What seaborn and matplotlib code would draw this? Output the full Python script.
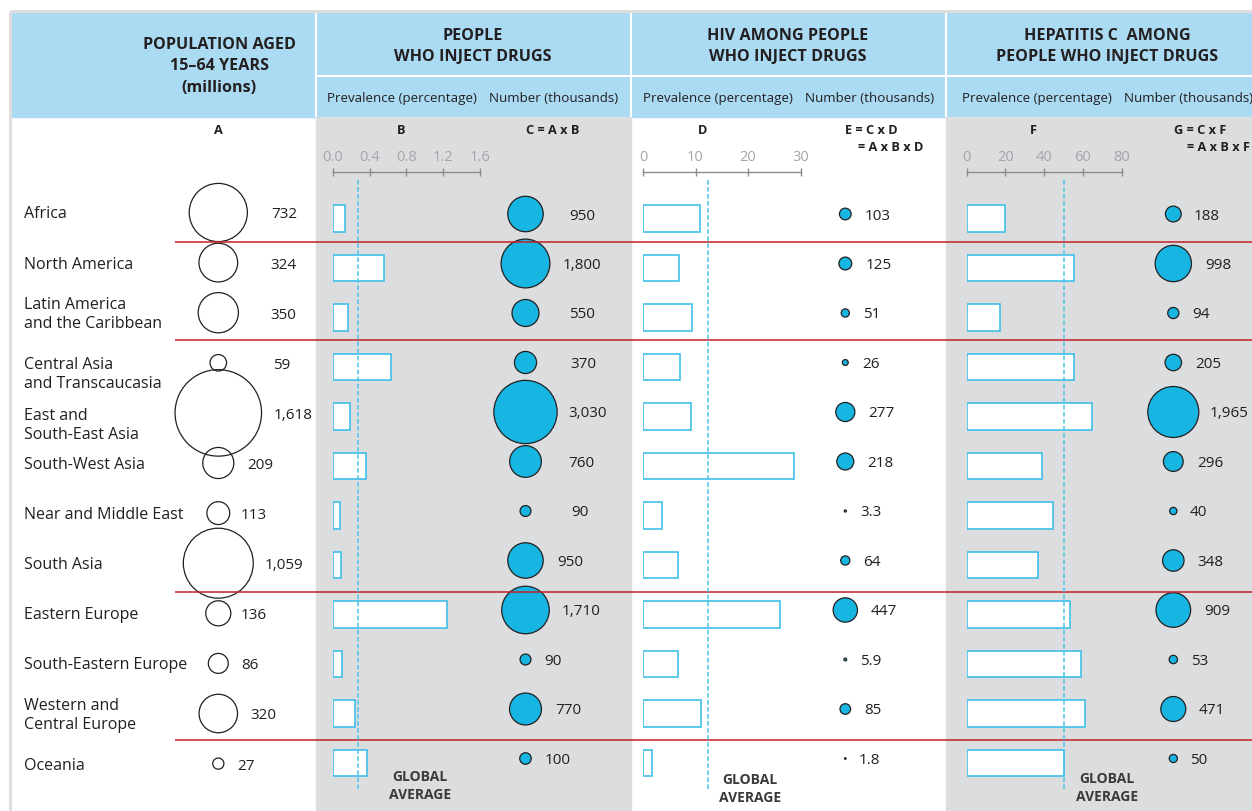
import numpy as np
import pandas as pd
import seaborn as sns
import matplotlib.pyplot as plt
from matplotlib.patches import Rectangle

# ---- data ----
regions = ['Africa', 'North America', 'Latin America\nand the Caribbean',
           'Central Asia\nand Transcaucasia', 'East and\nSouth-East Asia',
           'South-West Asia', 'Near and Middle East', 'South Asia',
           'Eastern Europe', 'South-Eastern Europe',
           'Western and\nCentral Europe', 'Oceania']
pop_millions = [732, 324, 350, 59, 1618, 209, 113, 1059, 136, 86, 320, 27]
pwid_prev = [0.13, 0.56, 0.16, 0.63, 0.19, 0.36, 0.08, 0.09, 1.25, 0.10, 0.24, 0.37]
pwid_thousands = [950, 1800, 550, 370, 3030, 760, 90, 950, 1710, 90, 770, 100]
hiv_prev = [10.8, 6.9, 9.3, 7.0, 9.1, 28.7, 3.7, 6.7, 26.1, 6.6, 11.0, 1.8]
hiv_thousands = [103, 125, 51, 26, 277, 218, 3.3, 64, 447, 5.9, 85, 1.8]
hcv_prev = [19.8, 55.4, 17.1, 55.4, 64.9, 38.9, 44.4, 36.6, 53.2, 58.9, 61.2, 50.0]
hcv_thousands = [188, 998, 94, 205, 1965, 296, 40, 348, 909, 53, 471, 50]
pwid_global = 0.27
hiv_global = 12.4
hcv_global = 50.5

pwid_ticks = [0.0, 0.4, 0.8, 1.2, 1.6]
hiv_ticks = [0, 10, 20, 30]
hcv_ticks = [0, 20, 40, 60, 80]

# ---- layout (pixels) ----
W, H = 1252, 812
ROW0, STEP = 215, 49.5          # rows of the bubble / number columns
AROW0, ASTEP = 213.5, 50.1      # rows of column A and the region names
AXIS_Y = 173
label_x_a = [271, 270, 270, 273, 274, 247, 241, 265, 241, 241, 250, 237]
label_x_c = [569, 563, 569, 570, 568, 568, 571, 557, 562, 544, 555, 545]
label_x_e = [865, 866, 863, 862, 868, 867, 860, 863, 871, 860, 864, 859]
label_x_g = [1194, 1205, 1192, 1195, 1210, 1197, 1190, 1197, 1204, 1191, 1199, 1190]
name_shift = {3: 10, 4: 10.5}

DARK = '#231f20'
HEAD = '#abdaf3'
PANEL = '#dcdddf'
CYAN = '#17b5e2'
BAR_EDGE = '#3fc0e9'
DASH = '#4cc4ea'
RED = '#c41e26'

sns.set_theme(style='white')
plt.rcParams['font.family'] = ['Open Sans', 'DejaVu Sans']

fig = plt.figure(figsize=(W / 100, H / 100), dpi=100)
bg = fig.add_axes([0, 0, 1, 1])


def fmt(v):
    if v >= 1000:
        return f'{v:,.0f}'
    if v != int(v):
        return f'{v:.1f}'
    return f'{int(v)}'


# background blocks
bg.add_patch(Rectangle((11, 13.5), W - 11, 118 - 13.5, color=HEAD, zorder=0))
bg.add_patch(Rectangle((316, 118), 315, H - 118, color=PANEL, zorder=0))
bg.add_patch(Rectangle((946, 118), W - 946, H - 118, color=PANEL, zorder=0))
bg.add_patch(Rectangle((9.5, 12), W + 10, H + 10, fill=False, edgecolor='#dedede', lw=2.2, zorder=1))
bg.vlines([315.5, 630.5, 945.5], 13.5, 118, color='white', lw=1.5, zorder=1)
bg.hlines(76.7, 316, W, color='white', lw=1.5, zorder=1)

# header texts
hd = dict(ha='center', va='center', fontsize=11.6, fontweight='bold', color=DARK, linespacing=1.45)
bg.text(219, 66.5, 'POPULATION AGED\n15\u201364 YEARS\n(millions)', **hd)
bg.text(473, 46.7, 'PEOPLE\nWHO INJECT DRUGS', **hd)
bg.text(788, 46.7, 'HIV AMONG PEOPLE\nWHO INJECT DRUGS', **hd)
bg.text(1107, 46.7, 'HEPATITIS C  AMONG\nPEOPLE WHO INJECT DRUGS', **hd)
sub = dict(ha='center', va='center', fontsize=9.6, color=DARK)
for cx, t in [(402, 'Prevalence (percentage)'), (554, 'Number (thousands)'),
              (718, 'Prevalence (percentage)'), (870, 'Number (thousands)'),
              (1037, 'Prevalence (percentage)'), (1189, 'Number (thousands)')]:
    bg.text(cx, 98.5, t, **sub)

let = dict(ha='center', va='center', fontsize=9.2, fontweight='bold', color=DARK)
bg.text(218, 130, 'A', **let)
bg.text(401, 130, 'B', **let)
bg.text(553, 130, 'C = A x B', **let)
bg.text(703, 130, 'D', **let)
bg.text(871, 130, 'E = C x D', **let)
bg.text(923, 147.5, '= A x B x D', **dict(let, ha='right'))
bg.text(1033, 130, 'F', **let)
bg.text(1200, 130, 'G = C x F', **let)
bg.text(1250, 147.5, '= A x B x F', **dict(let, ha='right'))

# region names
for i, name in enumerate(regions):
    bg.text(24, AROW0 + ASTEP * i + name_shift.get(i, 0) + 1, name, ha='left', va='center',
            fontsize=11.5, color=DARK, linespacing=1.25)

# column A: population bubbles (hollow)
rows = np.arange(len(regions))
dfa = pd.DataFrame({'x': 218.3, 'y': AROW0 + ASTEP * rows, 'v': pop_millions})
ka = (2 * 1.075 * 0.72) ** 2
sns.scatterplot(data=dfa, x='x', y='y', size='v', sizes=(0, ka * max(pop_millions)),
                size_norm=(0, max(pop_millions)), color='none', edgecolor=DARK,
                linewidth=0.9, legend=False, ax=bg, zorder=3)
for i, v in enumerate(pop_millions):
    bg.text(label_x_a[i], AROW0 + ASTEP * i + 1.5, fmt(v), ha='left', va='center',
            fontsize=11, color=DARK, zorder=5)

# columns C, E, G: number bubbles on one shared scale
counts = pd.concat([
    pd.DataFrame({'x': 525.5, 'y': ROW0 + STEP * rows, 'v': pwid_thousands}),
    pd.DataFrame({'x': 845.3, 'y': ROW0 + STEP * rows, 'v': hiv_thousands}),
    pd.DataFrame({'x': 1173.3, 'y': ROW0 + STEP * rows, 'v': hcv_thousands}),
])
vmax = max(pwid_thousands)
kc = (2 * 0.575 * 0.72) ** 2
sns.scatterplot(data=counts, x='x', y='y', size='v', sizes=(0, kc * vmax),
                size_norm=(0, vmax), color=CYAN, edgecolor=DARK, linewidth=0.9,
                legend=False, ax=bg, zorder=3)
for xs, vals in [(label_x_c, pwid_thousands), (label_x_e, hiv_thousands), (label_x_g, hcv_thousands)]:
    for i, v in enumerate(vals):
        bg.text(xs[i], ROW0 + STEP * i + 1, fmt(v), ha='left', va='center',
                fontsize=11, color=DARK, zorder=5)

# red group separators
bg.hlines([242.7, 340.7, 592.5, 740.5], 175, W, color=RED, lw=1.1, zorder=6)

# global average captions
ga = dict(ha='center', va='center', fontsize=10, fontweight='bold', color='#3a3a3a', linespacing=1.3)
bg.text(420, 786, 'GLOBAL\nAVERAGE', **ga)
bg.text(750, 789, 'GLOBAL\nAVERAGE', **ga)
bg.text(1107, 788, 'GLOBAL\nAVERAGE', **ga)

bg.set_xlim(0, W)
bg.set_ylim(H, 0)
bg.axis('off')


def bar_panel(x0, x1, scale, values, avg, ticks, ticklabels):
    ax = fig.add_axes([x0 / W, 0, (x1 - x0) / W, (H - AXIS_Y) / H])
    df = pd.DataFrame({'region': regions, 'value': values})
    sns.barplot(data=df, x='value', y='region', orient='h', color='white', saturation=1,
                edgecolor=BAR_EDGE, linewidth=1.2, width=0.53, errorbar=None, ax=ax)
    ax.set_xlim(0, (x1 - x0) / scale)
    c0 = ROW0 + 4.5
    ax.set_ylim((H - c0) / STEP, (AXIS_Y - c0) / STEP)
    ax.axvline(avg, ymin=(H - 790) / (H - AXIS_Y), ymax=(H - 179) / (H - AXIS_Y),
               color=DASH, lw=1.1, ls=(0, (3, 1.6)))
    ax.patch.set_visible(False)
    for s in ['left', 'right', 'bottom']:
        ax.spines[s].set_visible(False)
    ax.spines['top'].set_visible(True)
    ax.spines['top'].set_color('#8c8c8c')
    ax.spines['top'].set_linewidth(1.0)
    ax.spines['top'].set_bounds(ticks[0], ticks[-1])
    ax.xaxis.set_ticks_position('top')
    ax.set_xticks(ticks)
    ax.set_xticklabels(ticklabels)
    ax.tick_params(axis='x', direction='inout', length=6, width=1.0, colors='#8c8c8c',
                   labelcolor='#a3a5a8', labelsize=10.5, pad=3,
                   top=True, bottom=False, labeltop=True, labelbottom=False)
    ax.set_yticks([])
    ax.set_xlabel('')
    ax.set_ylabel('')
    return ax


bar_panel(333, 630, 91.6, pwid_prev, pwid_global, pwid_ticks, [f'{t:.1f}' for t in pwid_ticks])
bar_panel(643, 945, 5.25, hiv_prev, hiv_global, hiv_ticks, [str(t) for t in hiv_ticks])
bar_panel(966.5, W, 1.94, hcv_prev, hcv_global, hcv_ticks, [str(t) for t in hcv_ticks])

fig.savefig('out.png', dpi=100, facecolor='white')
